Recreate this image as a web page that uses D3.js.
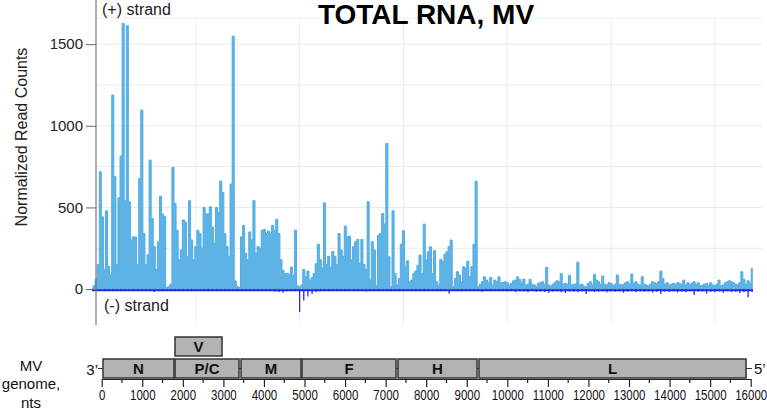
<!DOCTYPE html>
<html>
<head>
<meta charset="utf-8">
<script src="https://cdn.jsdelivr.net/npm/d3@7"></script>
<style>
  body { margin: 0; background: #fff; }
  svg { display: block; font-family: Arial, "Liberation Sans", sans-serif; }
</style>
</head>
<body>
<svg id="chart" width="767" height="410"></svg>
<script>
// (+) strand coverage, one value every 50 nt, split by gene region
const plusStep = 50;
const plusN = [0, 20, 60, 150, 718, 443, 120, 480, 140, 90, 1188, 688, 150, 560, 815, 1627, 540, 1612, 535, 300,
  320, 318, 150, 678, 1096, 340, 150, 210, 790, 432, 260, 120, 290, 569, 460, 443];
const plusP = [10, 15, 30, 745, 524, 360, 180, 240, 423, 410, 200, 541, 300, 180, 260, 360, 340, 250, 500, 460,
  460, 504, 380, 280, 500, 470, 661, 590, 340, 260, 200, 643];
const plusM = [1549, 50, 15, 10, 320, 390, 220, 180, 350, 300, 541, 220, 260, 250, 360, 365, 340, 355, 340, 390,
  360, 427, 340, 180, 115, 95, 95, 90, 135, 85];
const plusF = [361, 20, 10, 25, 120, 75, 110, 55, 70, 95, 155, 275, 180, 130, 528, 150, 200, 135, 230, 200,
  150, 340, 240, 200, 386, 320, 324, 180, 260, 290, 304, 157, 304, 150, 120, 535, 55, 290, 240, 25,
  330, 340, 463, 398, 892, 198, 15];
const plusH = [480, 96, 25, 65, 275, 357, 137, 173, 45, 55, 96, 110, 145, 208, 96, 398, 178, 228, 259, 96,
  235, 45, 25, 182, 167, 214, 228, 260, 300, 14, 65, 106, 86, 45, 137, 127, 171, 75, 137, 275, 661];
const plusL = [15, 30, 45, 75, 55, 39, 71, 25, 55, 45, 75, 39, 41, 45, 39, 25, 35, 51, 55, 75,
  59, 39, 61, 25, 30, 59, 30, 25, 14, 35, 39, 45, 30, 133, 25, 18, 30, 39, 51, 45,
  96, 30, 35, 30, 84, 25, 30, 31, 165, 25, 30, 18, 14, 35, 45, 30, 90, 55, 45, 30,
  80, 30, 25, 39, 35, 20, 30, 86, 30, 25, 30, 39, 45, 30, 92, 35, 45, 30, 25, 75,
  30, 25, 20, 30, 45, 39, 35, 45, 110, 65, 30, 39, 25, 30, 35, 30, 39, 35, 30, 55,
  25, 39, 30, 35, 45, 30, 39, 20, 25, 30, 35, 25, 39, 25, 20, 30, 55, 20, 25, 39,
  45, 51, 45, 39, 30, 25, 39, 106, 59, 30, 51, 35, 127];

// (-) strand coverage, one value every 100 nt
const minusStep = 100;
const minusVals = [-2, -8, -10, -8, -12, -9, -10, -8, -11, -9, -10, -8, -12, -9, -10, -18, -9, -10, -8, -11,
  -9, -10, -12, -8, -10, -9, -11, -8, -10, -9, -12, -10, -8, -11, -9, -10, -8, -12, -10, -9,
  -11, -14, -10, -12, -15, -18, -22, -14, -10, -12, -140, -70, -45, -30, -18, -12, -10, -14, -9, -11,
  -10, -13, -9, -12, -10, -11, -15, -9, -10, -12, -11, -9, -14, -10, -12, -9, -11, -10, -13, -9,
  -12, -10, -11, -14, -10, -9, -28, -11, -10, -13, -9, -12, -10, -11, -16, -10, -12, -9, -11, -10,
  -14, -12, -18, -13, -15, -20, -12, -16, -14, -18, -22, -15, -13, -20, -24, -14, -16, -19, -15, -30,
  -14, -18, -16, -13, -20, -15, -17, -14, -22, -16, -13, -19, -15, -17, -14, -21, -16, -30, -15, -18,
  -14, -20, -16, -19, -15, -37, -17, -14, -28, -16, -19, -15, -22, -14, -18, -16, -24, -20, -50, -18];

const yTicks = [0, 500, 1000, 1500];
const yGrid = [250, 500, 750, 1000, 1250, 1500];
const xGrid = [2500, 5000, 7500, 10000, 12500, 15000];

// genome map
const geneNames = ["N", "P/C", "M", "F", "H", "L"];
const geneStart = [32, 1807, 3435, 4938, 7305, 9302];
const geneEnd = [1782, 3385, 4914, 7256, 9253, 15885];
const upperNames = ["V"];
const upperStart = [1807];
const upperEnd = [2966];
const genomeTicks = [0, 1000, 2000, 3000, 4000, 5000, 6000, 7000, 8000, 9000, 10000, 11000, 12000, 13000, 14000, 15000, 16000];
const genomeMinor = [500, 1500, 2500, 3500, 4500, 5500, 6500, 7500, 8500, 9500, 10500, 11500, 12500, 13500, 14500, 15500];

const plusVals = [].concat(plusN, plusP, plusM, plusF, plusH, plusL);
const plus = plusVals.map((v, i) => ({ pos: i * plusStep, v }));
const minus = minusVals.map((v, i) => ({ pos: i * minusStep, v }));

const svg = d3.select("#chart");

const x = d3.scaleLinear().domain([0, 15894]).range([92, 752]);
const y = d3.scaleLinear().domain([-220, 1660]).range([325, 18]);
const xGen = d3.scaleLinear().domain([0, 16000]).range([101.7, 750.7]);

// grid
svg.append("g")
  .selectAll("line")
  .data(yGrid)
  .enter()
  .append("line")
  .attr("x1", 96).attr("x2", 762)
  .attr("y1", d => y(d)).attr("y2", d => y(d))
  .attr("stroke", "#e9e9e9");

svg.append("line")
  .attr("x1", 96).attr("x2", 762)
  .attr("y1", y(1660)).attr("y2", y(1660))
  .attr("stroke", "#eeeeee");

svg.append("g")
  .selectAll("line")
  .data(xGrid)
  .enter()
  .append("line")
  .attr("x1", d => x(d)).attr("x2", d => x(d))
  .attr("y1", y(1660)).attr("y2", 325)
  .attr("stroke", "#ececec");

// + strand
const plusArea = d3.area()
  .x(d => x(d.pos))
  .y0(y(0))
  .y1(d => y(d.v))
  .curve(d3.curveStep);

svg.append("path")
  .datum(plus)
  .attr("d", plusArea)
  .attr("fill", "#5db3e6")
  .attr("stroke", "#52ace2")
  .attr("stroke-width", 1);

// - strand: thin spikes on a baseline
svg.append("g")
  .selectAll("line")
  .data(minus)
  .enter()
  .append("line")
  .attr("x1", d => x(d.pos)).attr("x2", d => x(d.pos))
  .attr("y1", y(0)).attr("y2", d => y(d.v))
  .attr("stroke", "#2a2ae8")
  .attr("stroke-width", 1.3);

svg.append("line")
  .attr("x1", x(0)).attr("x2", x(15900))
  .attr("y1", y(-7)).attr("y2", y(-7))
  .attr("stroke", "#2525ea")
  .attr("stroke-width", 2);

// y axis
const yAxis = svg.append("g")
  .attr("transform", "translate(96,0)")
  .call(d3.axisLeft(y).tickValues(yTicks).tickFormat(d3.format("d")).tickSize(10).tickSizeOuter(0).tickPadding(3));
yAxis.select(".domain").remove();
yAxis.selectAll(".tick line").attr("stroke", "#666");
yAxis.selectAll("text").style("font-size", "15px").attr("fill", "#222");

svg.append("line")
  .attr("x1", 96).attr("x2", 96)
  .attr("y1", 0).attr("y2", 325)
  .attr("stroke", "#777")
  .attr("stroke-width", 1.2);

// labels
svg.append("text")
  .attr("transform", "translate(21,137) rotate(-90)")
  .attr("text-anchor", "middle")
  .attr("dy", "0.35em")
  .style("font-size", "16px")
  .attr("fill", "#222")
  .text("Normalized Read Counts");

svg.append("text")
  .attr("x", 426).attr("y", 24)
  .attr("text-anchor", "middle")
  .style("font-size", "28px")
  .style("font-weight", "bold")
  .attr("fill", "#000")
  .text("TOTAL RNA, MV");

svg.append("text")
  .attr("x", 102).attr("y", 15)
  .style("font-size", "16px")
  .attr("fill", "#222")
  .text("(+) strand");

svg.append("text")
  .attr("x", 104).attr("y", 311)
  .style("font-size", "16px")
  .attr("fill", "#222")
  .text("(-) strand");

// genome map
const boxTop = 359, boxH = 19, upTop = 337;

svg.append("line")
  .attr("x1", 98).attr("x2", 752)
  .attr("y1", boxTop + boxH / 2).attr("y2", boxTop + boxH / 2)
  .attr("stroke", "#333")
  .attr("stroke-width", 1.2);

const genes = svg.append("g");
genes.selectAll("rect")
  .data(geneNames)
  .enter()
  .append("rect")
  .attr("x", (d, i) => xGen(geneStart[i]))
  .attr("y", boxTop)
  .attr("width", (d, i) => xGen(geneEnd[i]) - xGen(geneStart[i]))
  .attr("height", boxH)
  .attr("fill", "#b3b3b3")
  .attr("stroke", "#333")
  .attr("stroke-width", 1.5);

genes.selectAll("text")
  .data(geneNames)
  .enter()
  .append("text")
  .attr("x", (d, i) => (xGen(geneStart[i]) + xGen(geneEnd[i])) / 2)
  .attr("y", boxTop + boxH / 2 + 5.5)
  .attr("text-anchor", "middle")
  .style("font-size", "15px")
  .style("font-weight", "bold")
  .attr("fill", "#111")
  .text(d => d);

const upper = svg.append("g");
upper.selectAll("rect")
  .data(upperNames)
  .enter()
  .append("rect")
  .attr("x", (d, i) => xGen(upperStart[i]))
  .attr("y", upTop)
  .attr("width", (d, i) => xGen(upperEnd[i]) - xGen(upperStart[i]))
  .attr("height", boxH)
  .attr("fill", "#b3b3b3")
  .attr("stroke", "#333")
  .attr("stroke-width", 1.5);

upper.selectAll("text")
  .data(upperNames)
  .enter()
  .append("text")
  .attr("x", (d, i) => (xGen(upperStart[i]) + xGen(upperEnd[i])) / 2)
  .attr("y", upTop + boxH / 2 + 5.5)
  .attr("text-anchor", "middle")
  .style("font-size", "15px")
  .style("font-weight", "bold")
  .attr("fill", "#111")
  .text(d => d);

// genome axis
const gAxis = svg.append("g")
  .attr("transform", "translate(0,379)")
  .call(d3.axisBottom(xGen).tickValues(genomeTicks).tickFormat(d3.format("d")).tickSize(8).tickSizeOuter(0).tickPadding(3));
gAxis.select(".domain").attr("stroke", "#222").attr("stroke-width", 1.2);
gAxis.selectAll(".tick line").attr("stroke", "#222").attr("stroke-width", 1.2);
gAxis.selectAll("text")
  .style("font-size", "14px")
  .attr("fill", "#111")
  .attr("transform", "scale(0.82,1)");

gAxis.selectAll("line.minor")
  .data(genomeMinor)
  .enter()
  .append("line")
  .attr("class", "minor")
  .attr("x1", d => xGen(d)).attr("x2", d => xGen(d))
  .attr("y1", 0).attr("y2", 4)
  .attr("stroke", "#222")
  .attr("stroke-width", 1.2);

svg.append("text")
  .attr("x", 98).attr("y", 375)
  .attr("text-anchor", "end")
  .style("font-size", "15px")
  .attr("fill", "#111")
  .text("3\u2019");

svg.append("text")
  .attr("x", 754).attr("y", 374)
  .style("font-size", "15px")
  .attr("fill", "#111")
  .text("5\u2019");

const side = svg.append("g")
  .attr("text-anchor", "middle")
  .style("font-size", "15px")
  .attr("fill", "#111");
side.append("text").attr("x", 31).attr("y", 371).text("MV");
side.append("text").attr("x", 31).attr("y", 389).text("genome,");
side.append("text").attr("x", 31).attr("y", 408).text("nts");
</script>
</body>
</html>
